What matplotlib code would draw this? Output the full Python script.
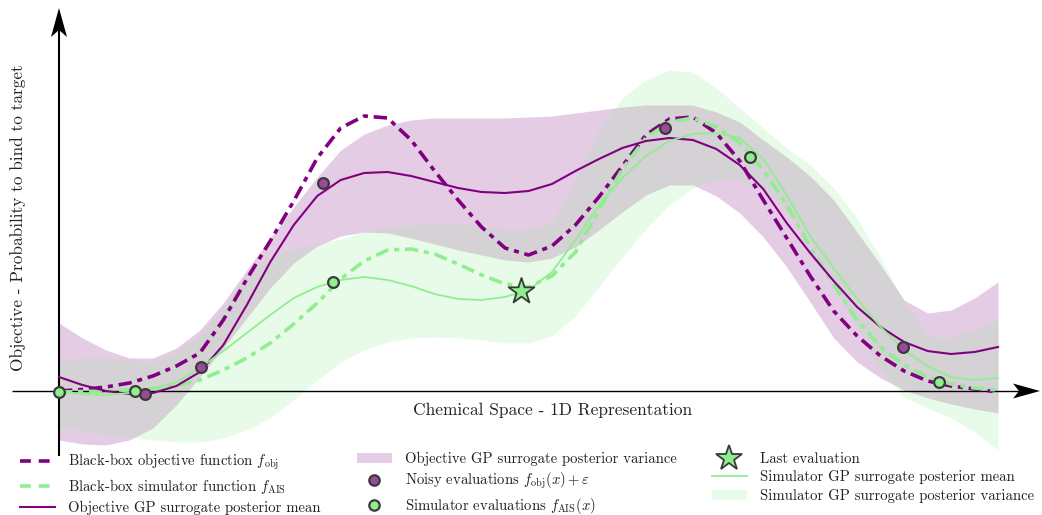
import numpy as np
import matplotlib
matplotlib.use("Agg")
import matplotlib.pyplot as plt
from matplotlib.lines import Line2D
from matplotlib.patches import Patch

plt.rcParams['font.family'] = ['cmr10', 'DejaVu Serif']
plt.rcParams['mathtext.fontset'] = 'cm'
plt.rcParams['axes.formatter.use_mathtext'] = True

# ---------------- data ----------------
x_line = np.linspace(0, 10, 41)
f_obj = [0.00, 0.015, 0.04, 0.08, 0.15, 0.25, 0.38, 0.71, 1.12, 1.50, 1.90, 2.33, 2.63, 2.75,
         2.73, 2.51, 2.20, 1.91, 1.64, 1.43, 1.36, 1.45, 1.66, 1.94, 2.25, 2.56, 2.72, 2.74,
         2.58, 2.30, 1.91, 1.53, 1.15, 0.80, 0.55, 0.35, 0.20, 0.10, 0.05, 0.02, -0.01]
f_ais = [-0.01, -0.005, 0.00, 0.01, 0.025, 0.055, 0.11, 0.21, 0.33, 0.48, 0.67, 0.88, 1.12, 1.30,
         1.41, 1.42, 1.37, 1.27, 1.16, 1.07, 1.04, 1.15, 1.39, 1.81, 2.22, 2.53, 2.69, 2.73,
         2.64, 2.48, 2.21, 1.86, 1.44, 1.06, 0.71, 0.44, 0.26, 0.14, 0.07, 0.03, 0.01]
obj_mean = [0.14, 0.06, 0.00, -0.03, -0.02, 0.05, 0.19, 0.46, 0.86, 1.29, 1.66, 1.95, 2.11, 2.18,
            2.19, 2.15, 2.09, 2.03, 1.99, 1.98, 2.00, 2.07, 2.20, 2.32, 2.43, 2.50, 2.53, 2.51,
            2.42, 2.26, 2.02, 1.68, 1.38, 1.10, 0.84, 0.64, 0.49, 0.40, 0.37, 0.39, 0.44]
sim_mean = [-0.01, -0.03, -0.04, -0.02, 0.02, 0.09, 0.23, 0.40, 0.58, 0.76, 0.93, 1.04, 1.11, 1.14,
            1.11, 1.05, 0.97, 0.92, 0.91, 0.94, 1.01, 1.19, 1.51, 1.86, 2.13, 2.35, 2.50, 2.57,
            2.58, 2.53, 2.32, 1.96, 1.55, 1.23, 0.92, 0.64, 0.41, 0.25, 0.14, 0.11, 0.13]

x_band = np.linspace(0, 10, 41)
obj_upper = [0.68, 0.53, 0.41, 0.33, 0.33, 0.43, 0.61, 0.88, 1.21, 1.53, 1.84, 2.14, 2.41, 2.57,
             2.66, 2.71, 2.73, 2.73, 2.73, 2.73, 2.74, 2.75, 2.78, 2.81, 2.84, 2.86, 2.86, 2.86,
             2.79, 2.69, 2.51, 2.34, 2.15, 1.91, 1.59, 1.26, 0.91, 0.78, 0.81, 0.93, 1.09]
obj_lower = [-0.49, -0.53, -0.54, -0.49, -0.37, -0.14, 0.14, 0.43, 0.73, 1.03, 1.28, 1.45, 1.55,
             1.59, 1.58, 1.53, 1.47, 1.41, 1.36, 1.31, 1.29, 1.33, 1.44, 1.61, 1.79, 1.96, 2.06,
             2.06, 1.95, 1.78, 1.54, 1.24, 0.89, 0.53, 0.29, 0.13, 0.01, -0.07, -0.13, -0.18, -0.22]
sim_upper = [0.31, 0.33, 0.33, 0.31, 0.29, 0.39, 0.56, 0.84, 1.15, 1.34, 1.42, 1.47, 1.52, 1.59,
             1.64, 1.66, 1.67, 1.67, 1.65, 1.61, 1.61, 1.69, 2.11, 2.61, 2.93, 3.11, 3.21, 3.19,
             3.03, 2.83, 2.63, 2.43, 2.26, 2.03, 1.73, 1.33, 0.89, 0.55, 0.53, 0.61, 0.73]
sim_lower = [-0.37, -0.40, -0.43, -0.46, -0.49, -0.51, -0.51, -0.47, -0.39, -0.27, -0.09, 0.11,
             0.29, 0.41, 0.49, 0.53, 0.54, 0.53, 0.51, 0.48, 0.48, 0.55, 0.75, 1.04, 1.34, 1.62,
             1.86, 2.03, 2.12, 2.11, 2.01, 1.79, 1.49, 1.09, 0.63, 0.21, -0.06, -0.17, -0.27,
             -0.41, -0.59]

noisy_x = [0.92, 1.51, 2.81, 6.45, 8.99]
noisy_y = [-0.03, 0.24, 2.08, 2.63, 0.44]
sim_x = [0.0, 0.81, 2.92, 7.36, 9.37]
sim_y = [-0.01, 0.00, 1.09, 2.34, 0.09]
last_x = [4.92]
last_y = [1.00]

labels = {
    'fobj': r'Black-box objective function $f_{\mathrm{obj}}$',
    'fais': r'Black-box simulator function $f_{\mathrm{AIS}}$',
    'omean': 'Objective GP surrogate posterior mean',
    'ovar': 'Objective GP surrogate posterior variance',
    'noisy': r'Noisy evaluations $f_{\mathrm{obj}}(x)+\varepsilon$',
    'simev': r'Simulator evaluations $f_{\mathrm{AIS}}(x)$',
    'last': 'Last evaluation',
    'smean': 'Simulator GP surrogate posterior mean',
    'svar': 'Simulator GP surrogate posterior variance',
}

# ---------------- figure ----------------
W, H = 1042, 515
fig = plt.figure(figsize=(W / 100, H / 100), dpi=100)
ax = fig.add_axes([0, 0, 1, 1])


def px2x(px):
    return (px - 59) / 93.9


def py2y(py):
    return (391 - py) / 100


ax.set_xlim(px2x(0), px2x(W))
ax.set_ylim(py2y(H), py2y(0))
ax.axis('off')

PURPLE = 'purple'
GREEN = 'lightgreen'

ax.fill_between(x_band, obj_lower, obj_upper, color=PURPLE, alpha=0.2, lw=0, zorder=1)
ax.fill_between(x_band, sim_lower, sim_upper, color=GREEN, alpha=0.2, lw=0, zorder=1)

# axes with stealth arrow heads
ax.plot([px2x(12), px2x(1022)], [0, 0], color='black', lw=1.0, zorder=2, solid_capstyle='butt')
ax.fill([px2x(1040), px2x(1013), px2x(1019), px2x(1013)],
        [py2y(391), py2y(383.5), py2y(391), py2y(398.5)], color='black', lw=0, zorder=2)
ax.plot([0, 0], [py2y(456), py2y(28)], color='black', lw=1.5, zorder=2, solid_capstyle='butt')
ax.fill([px2x(59), px2x(51), px2x(59), px2x(67)],
        [py2y(8), py2y(37), py2y(30), py2y(37)], color='black', lw=0, zorder=2)

dashdot = (0, (3.7, 1.6, 1.4, 1.6))
ax.plot(x_line, f_obj, color=PURPLE, lw=2.6, ls=dashdot, zorder=3)
ax.plot(x_line, f_ais, color=GREEN, lw=2.6, ls=dashdot, zorder=3)
ax.plot(x_line, obj_mean, color=PURPLE, lw=1.5, zorder=3)
ax.plot(x_line, sim_mean, color=GREEN, lw=1.3, zorder=3)

ax.scatter(noisy_x, noisy_y, s=60, facecolor='#9b4a9b', edgecolor='#3a3a3a', linewidth=1.6, zorder=5)
ax.scatter(sim_x, sim_y, s=60, facecolor=GREEN, edgecolor='#3a3a3a', linewidth=1.6, zorder=5)
ax.scatter(last_x, last_y, s=380, marker='*', facecolor=GREEN, edgecolor='#3a3a3a', linewidth=1.3, zorder=6)

ax.text(px2x(553), py2y(410), 'Chemical Space - 1D Representation', fontsize=12.5,
        ha='center', va='center', color='#222222')
ax.text(px2x(18), py2y(218), 'Objective - Probability to bind to target', fontsize=12.4,
        ha='center', va='center', rotation=90, color='#222222')

# legends
h1 = [Line2D([], [], color=PURPLE, lw=2.6, ls=(0, (3, 2.2))),
      Line2D([], [], color=GREEN, lw=2.6, ls=(0, (3, 2.2))),
      Line2D([], [], color=PURPLE, lw=1.5)]
h2 = [Patch(facecolor=PURPLE, alpha=0.2, lw=0),
      Line2D([], [], ls='none', marker='o', markersize=7.5, markerfacecolor='#9b4a9b',
             markeredgecolor='#3a3a3a', markeredgewidth=1.6),
      Line2D([], [], ls='none', marker='o', markersize=7.5, markerfacecolor=GREEN,
             markeredgecolor='#3a3a3a', markeredgewidth=1.6)]
h3 = [Line2D([], [], ls='none', marker='*', markersize=19, markerfacecolor=GREEN,
             markeredgecolor='#3a3a3a', markeredgewidth=1.3),
      Line2D([], [], color=GREEN, lw=1.3),
      Patch(facecolor=GREEN, alpha=0.2, lw=0)]
l1 = [labels['fobj'], labels['fais'], labels['omean']]
l2 = [labels['ovar'], labels['noisy'], labels['simev']]
l3 = [labels['last'], labels['smean'], labels['svar']]

common = dict(frameon=False, fontsize=10.6, handlelength=2.35, handletextpad=0.9,
              labelspacing=0.32, borderpad=0, borderaxespad=0, loc='upper left')
for hs, ls_, xpx in [(h1, l1, 20), (h2, l2, 357), (h3, l3, 712)]:
    leg = fig.legend(hs, ls_, bbox_to_anchor=(xpx / W, 1 - 452 / H), **common)
    for t in leg.get_texts():
        t.set_color('#222222')

fig.savefig('out.png', dpi=100)
